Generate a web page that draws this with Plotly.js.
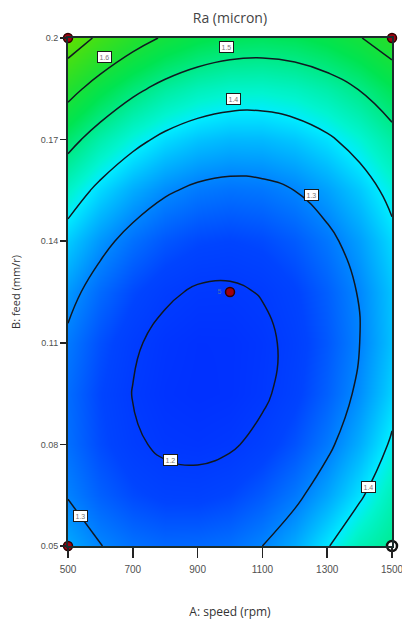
<!DOCTYPE html>
<html>
<head>
<meta charset="utf-8">
<script src="https://cdn.plot.ly/plotly-3.0.1.min.js"></script>
<style>
  html, body { margin: 0; padding: 0; background: #fff; }
  #chart { width: 402px; height: 627px; }
</style>
</head>
<body>
<div id="chart"></div>
<script>
// A: speed (rpm) grid
const speed = [500, 600, 700, 800, 900, 1000, 1100, 1200, 1300, 1400, 1500];
// B: feed (mm/r) grid
const feed = [0.05, 0.065, 0.08, 0.095, 0.11, 0.125, 0.14, 0.155, 0.17, 0.185, 0.2];
// Ra (micron), one row per feed value
const ra = [
  [1.3355, 1.3014, 1.2792, 1.2688, 1.2704, 1.2780, 1.3000, 1.3380, 1.3952, 1.4562, 1.4900],
  [1.2969, 1.2598, 1.2345, 1.2211, 1.2196, 1.2300, 1.2523, 1.2864, 1.3324, 1.3903, 1.4550],
  [1.2760, 1.2359, 1.2076, 1.1912, 1.1867, 1.1940, 1.2132, 1.2443, 1.2873, 1.3422, 1.4089],
  [1.2729, 1.2298, 1.1984, 1.1790, 1.1714, 1.1758, 1.1920, 1.2200, 1.2600, 1.3118, 1.3755],
  [1.2876, 1.2414, 1.2070, 1.1846, 1.1740, 1.1753, 1.1885, 1.2135, 1.2504, 1.2992, 1.3599],
  [1.3200, 1.2708, 1.2334, 1.2079, 1.1943, 1.1926, 1.2027, 1.2247, 1.2586, 1.3044, 1.3620],
  [1.3702, 1.3180, 1.2775, 1.2490, 1.2324, 1.2276, 1.2347, 1.2537, 1.2846, 1.3273, 1.3819],
  [1.4381, 1.3829, 1.3394, 1.3079, 1.2882, 1.2804, 1.2845, 1.3004, 1.3283, 1.3680, 1.4196],
  [1.5238, 1.4655, 1.4191, 1.3845, 1.3618, 1.3510, 1.3520, 1.3649, 1.3898, 1.4265, 1.4750],
  [1.6273, 1.5660, 1.5164, 1.4788, 1.4531, 1.4393, 1.4373, 1.4472, 1.4690, 1.5027, 1.5482],
  [1.7485, 1.6842, 1.6316, 1.5910, 1.5622, 1.5454, 1.5404, 1.5472, 1.5660, 1.5966, 1.6391]
];
// design points
const designSpeed = [500, 1500, 500, 1000];
const designFeed = [0.2, 0.2, 0.05, 0.125];
const openSpeed = [1500];
const openFeed = [0.05];
const centerCount = ['5'];
// contour labels
const labelSpeed = [614, 988, 1012, 1253, 815, 540, 1426];
const labelFeed = [0.1944, 0.1973, 0.182, 0.1536, 0.0754, 0.0589, 0.0674];
const labelText = ['1.6', '1.5', '1.4', '1.3', '1.2', '1.3', '1.4'];
// axis ticks
const xTicks = [500, 700, 900, 1100, 1300, 1500];
const yTicks = [0.05, 0.08, 0.11, 0.14, 0.17, 0.2];
const yTickText = ['0.05', '0.08', '0.11', '0.14', '0.17', '0.2'];

const colorscale = [
  [0.000, '#0030ff'],
  [0.100, '#0044ff'],
  [0.224, '#0084ff'],
  [0.320, '#00bcff'],
  [0.397, '#00ecff'],
  [0.450, '#00f4d0'],
  [0.569, '#00ea88'],
  [0.660, '#00e450'],
  [0.780, '#20e030'],
  [1.000, '#60e000']
];

const traces = [
  {
    type: 'contour',
    x: speed, y: feed, z: ra,
    zmin: 1.17, zmax: 1.75,
    colorscale: colorscale,
    showscale: false,
    contours: { start: 1.2, end: 1.7, size: 0.1, coloring: 'heatmap', showlabels: false },
    line: { color: '#101820', width: 1.5, smoothing: 1.3 },
    hoverinfo: 'skip'
  },
  {
    type: 'scatter', mode: 'markers',
    x: designSpeed, y: designFeed,
    marker: { size: 9, color: '#a00010', line: { color: '#300000', width: 1.5 } },
    cliponaxis: false, hoverinfo: 'skip'
  },
  {
    type: 'scatter', mode: 'markers',
    x: openSpeed, y: openFeed,
    marker: { size: 10, color: '#ffffff', line: { color: '#111111', width: 2.5 } },
    cliponaxis: false, hoverinfo: 'skip'
  },
  {
    type: 'scatter', mode: 'markers+text',
    x: [designSpeed[3]], y: [designFeed[3]],
    text: centerCount, textposition: 'middle left',
    marker: { size: 12, opacity: 0 },
    textfont: { size: 7, color: '#5070b0', family: 'Liberation Sans Narrow, Arial' },
    cliponaxis: false, hoverinfo: 'skip'
  }
];

const annotations = labelText.map((t, i) => ({
  x: labelSpeed[i], y: labelFeed[i], xref: 'x', yref: 'y',
  text: t, showarrow: false,
  font: { size: 7, color: '#777', family: 'Liberation Sans Narrow, Arial' },
  bgcolor: '#ffffff', bordercolor: '#1a1a1a', borderwidth: 1, borderpad: 1.5
}));

const layout = {
  width: 402, height: 627,
  margin: { l: 68, r: 10, t: 38, b: 81 },
  paper_bgcolor: '#ffffff', plot_bgcolor: '#ffffff',
  showlegend: false,
  title: {
    text: 'Ra (micron)',
    font: { family: 'Open Sans, Arial', size: 14, color: '#444' },
    x: 0.572, xanchor: 'center', y: 0.971, yanchor: 'middle'
  },
  xaxis: {
    range: [500, 1500],
    tickvals: xTicks, ticktext: xTicks.map(String),
    ticks: 'outside', ticklen: 10, tickwidth: 1.5, tickcolor: '#222',
    ticklabeloverflow: 'allow', ticklabelstandoff: 3,
    tickfont: { family: 'Liberation Sans Narrow, Arial', size: 10, color: '#505050' },
    showline: true, mirror: true, linecolor: '#1c2c2c', linewidth: 2,
    showgrid: false, zeroline: false,
    title: { text: 'A: speed (rpm)', font: { family: 'Open Sans, Arial', size: 12, color: '#333' }, standoff: 34 }
  },
  yaxis: {
    range: [0.05, 0.2],
    tickvals: yTicks, ticktext: yTickText,
    ticks: 'outside', ticklen: 6, tickwidth: 1.5, tickcolor: '#222',
    tickfont: { family: 'Liberation Sans Narrow, Arial', size: 9, color: '#505050' },
    showline: true, mirror: true, linecolor: '#1c2c2c', linewidth: 2,
    showgrid: false, zeroline: false,
    title: { text: 'B: feed (mm/r)', font: { family: 'Open Sans, Arial', size: 11, color: '#333' }, standoff: 18 }
  },
  annotations: annotations
};

Plotly.newPlot('chart', traces, layout, { displayModeBar: false, staticPlot: true });
</script>
</body>
</html>
